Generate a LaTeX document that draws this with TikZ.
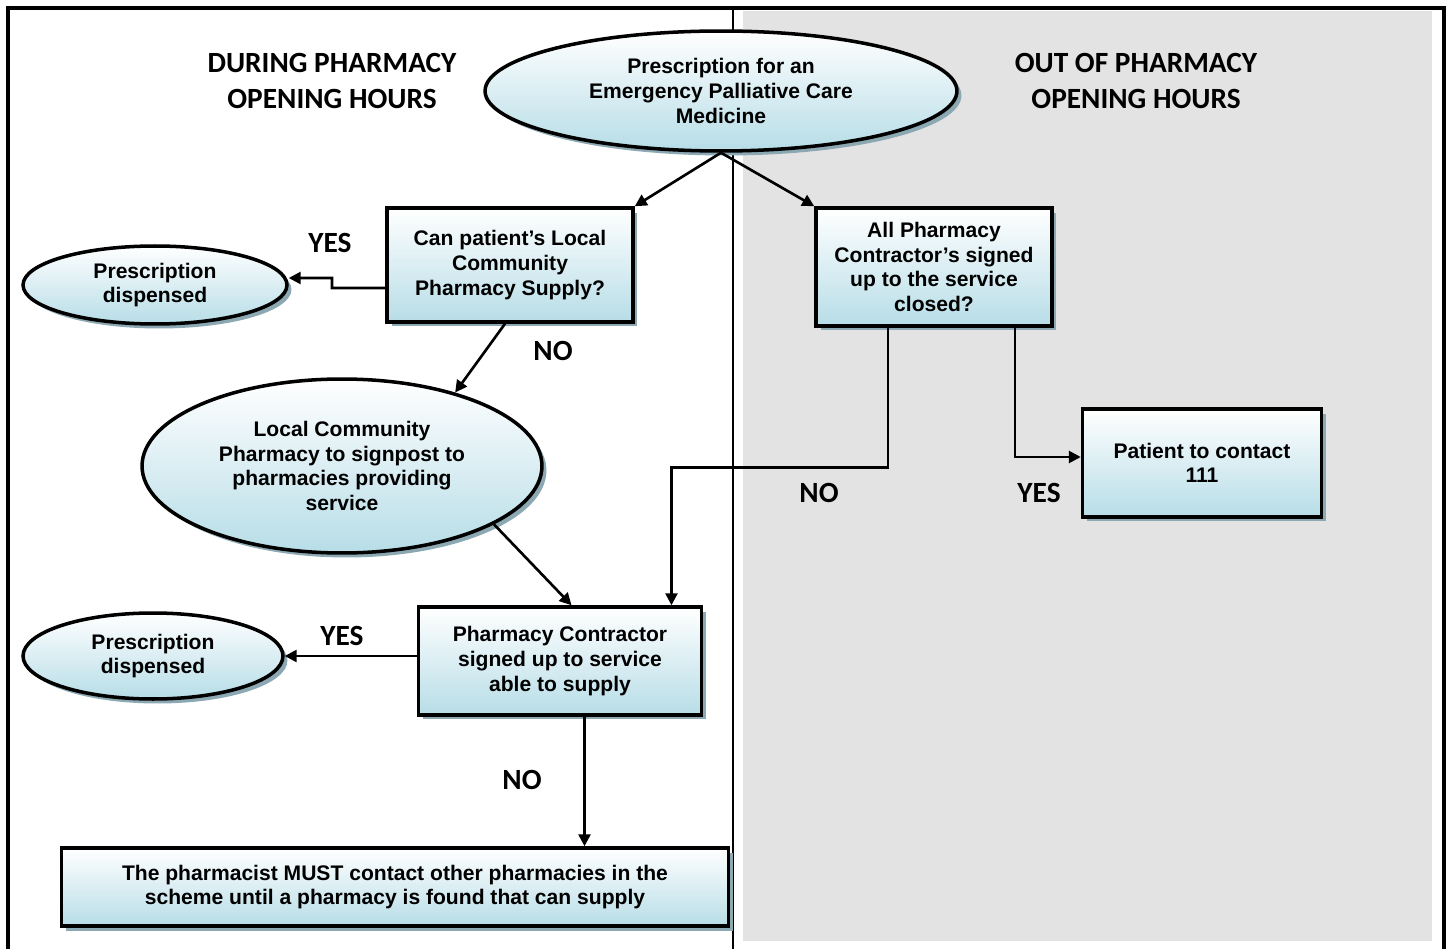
\documentclass[tikz,border=0pt]{standalone}
\usepackage{fontspec}
\setmainfont{Liberation Sans}
\newfontfamily\hdrfont{Carlito}
\usetikzlibrary{arrows.meta,shapes.geometric,shadows}
\definecolor{boxblue}{RGB}{183,221,231}
\definecolor{shadowgray}{RGB}{140,168,178}
\definecolor{panelgray}{RGB}{227,227,227}
\tikzset{
  gradfill/.style={top color=white, bottom color=boxblue, draw=black, line width=2pt,
    drop shadow={shadow xshift=0.09cm, shadow yshift=-0.09cm, fill=shadowgray, opacity=1}},
  procbox/.style={gradfill, rectangle, align=center, inner sep=0pt,
    font=\bfseries\fontsize{12}{14}\selectfont},
  termoval/.style={gradfill, ellipse, align=center, inner sep=0pt,
    font=\bfseries\fontsize{12}{14}\selectfont},
  lbl/.style={font=\hdrfont\bfseries\fontsize{16.7}{21}\selectfont, align=center},
  arr/.style={line width=1.5pt, -{Triangle[length=0.24cm,width=0.24cm]}},
}
\begin{document}
\begin{tikzpicture}[x=0.02cm, y=-0.02cm]
  \useasboundingbox (0,0) rectangle (1449,949);
  \fill[panelgray] (743,11) rectangle (1432,941);
  \draw[line width=2pt] (8,949) -- (8,8) -- (1444,8) -- (1444,949);
  \draw[line width=1.5pt] (733,8) -- (733,949);

  \draw
    (332,81) node[lbl] (hleft) {DURING PHARMACY\\OPENING HOURS}
    (1136,81) node[lbl] (hright) {OUT OF PHARMACY\\OPENING HOURS}
    (721,91) node[termoval, minimum width=9.44cm, minimum height=2.4cm] (top)
      {Prescription for an\\Emergency Palliative Care\\Medicine}
    (510,265) node[procbox, minimum width=4.92cm, minimum height=2.28cm] (can)
      {Can patient's Local\\Community\\Pharmacy Supply?}
    (155,285) node[termoval, minimum width=5.28cm, minimum height=1.56cm] (disp1)
      {Prescription\\dispensed}
    (342,466) node[termoval, minimum width=8cm, minimum height=3.48cm] (sign)
      {Local Community\\Pharmacy to signpost to\\pharmacies providing\\service}
    (560,661) node[procbox, minimum width=5.66cm, minimum height=2.16cm] (supply)
      {Pharmacy Contractor\\signed up to service\\able to supply}
    (153,656) node[termoval, minimum width=5.2cm, minimum height=1.72cm] (disp2)
      {Prescription\\dispensed}
    (395,887) node[procbox, minimum width=13.34cm, minimum height=1.56cm] (must)
      {The pharmacist MUST contact other pharmacies in the\\scheme until a pharmacy is found that can supply}
    (934,267) node[procbox, minimum width=4.72cm, minimum height=2.36cm] (all)
      {All Pharmacy\\Contractor's signed\\up to the service\\closed?}
    (1202,463) node[procbox, minimum width=4.78cm, minimum height=2.16cm] (patient)
      {Patient to contact\\111};

  \draw
    (330,243) node[lbl] (yes1) {YES}
    (553,351) node[lbl] (no1) {NO}
    (342,636) node[lbl] (yes2) {YES}
    (522,780) node[lbl] (no2) {NO}
    (819,493) node[lbl] (no3) {NO}
    (1039,493) node[lbl] (yes3) {YES};

  \begin{scope}[arr]
    \draw (top.south) -- (can.north east);
    \draw (top.south) -- (all.north west);
    \draw ([yshift=-0.46cm]can.west) -- (332,288) -- (332,278) -- (disp1.east |- 0,278);
    \draw ([xshift=-0.1cm]can.south) -- (sign.33);
    \draw (sign.-21) -- ([xshift=0.23cm]supply.north);
    \draw ([xshift=-0.92cm]all.south) -- ++(0,140) -| ([xshift=2.23cm]supply.north);
    \draw ([xshift=1.62cm]all.south) |- ([yshift=0.12cm]patient.west);
    \draw (supply.west |- disp2.east) -- (disp2.east);
    \draw ([xshift=0.49cm]supply.south) -- ([xshift=0.49cm]supply.south |- must.north);
  \end{scope}
\end{tikzpicture}
\end{document}
